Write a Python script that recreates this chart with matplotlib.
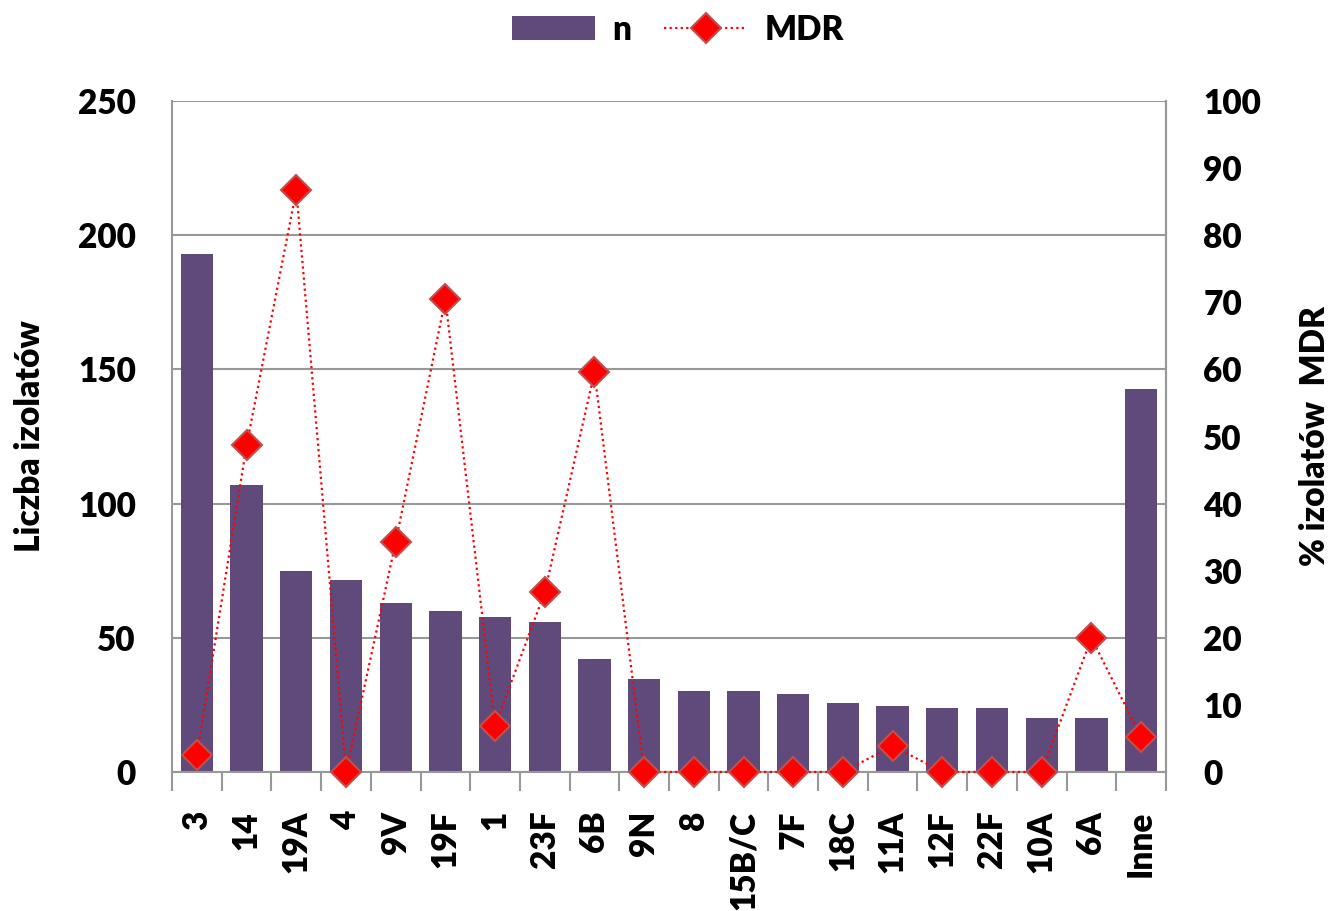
import matplotlib
matplotlib.use("Agg")
import matplotlib.pyplot as plt
import numpy as np

categories = ["3", "14", "19A", "4", "9V", "19F", "1", "23F", "6B", "9N", "8",
              "15B/C", "7F", "18C", "11A", "12F", "22F", "10A", "6A", "Inne"]
n_values = [193, 107, 75, 71.5, 63, 60, 57.7, 56, 42, 34.6, 30, 30, 29, 25.7,
            24.6, 23.8, 23.8, 20, 20, 142.7]
mdr_values = [2.5, 48.7, 86.7, 0, 34.3, 70.5, 6.9, 26.8, 59.6, 0, 0, 0, 0, 0,
              3.9, 0, 0, 0, 20, 5.2]
left_ticks = [0, 50, 100, 150, 200, 250]
right_ticks = [0, 10, 20, 30, 40, 50, 60, 70, 80, 90, 100]

plt.rcParams['font.family'] = ['Lato', 'DejaVu Sans']
plt.rcParams['font.weight'] = 'heavy'
FS = 24
W = 'heavy'

fig = plt.figure(figsize=(13.34, 9.11), dpi=100)
ax = fig.add_axes([0.129, 0.1526, 0.745, 0.7364])
x = np.arange(len(categories))
bar_color = "#604A7B"
bars = ax.bar(x, n_values, width=0.65, color=bar_color, zorder=2, label="n")
ax.set_ylim(0, 250)
ax.set_xlim(-0.5, len(categories) - 0.5)
ax.set_yticks(left_ticks)
grid_col = "#989898"
ax.yaxis.grid(True, color=grid_col, lw=1.5, zorder=0)
ax.set_axisbelow(True)
for s in ax.spines.values():
    s.set_color(grid_col)
    s.set_linewidth(1.5)
ax.spines['top'].set_visible(False)
ax.tick_params(axis='y', length=0, labelsize=FS, pad=26)
ax.set_xticks(np.arange(-0.5, len(categories), 1.0), minor=False)
ax.set_xticklabels([])
ax.tick_params(axis='x', which='major', length=14, color=grid_col, width=1.5, direction='out')
ax.set_xticks(x, minor=True)
ax.set_xticklabels(categories, minor=True, rotation=90, fontsize=FS, fontweight=W)
ax.tick_params(axis='x', which='minor', length=0, pad=28)
ax.set_ylabel("Liczba izolatów", fontsize=FS, fontweight=W)
ax.yaxis.set_label_coords(-0.127, 0.5)
for lab in ax.get_yticklabels():
    lab.set_fontweight(W)

ax2 = ax.twinx()
ax2.set_ylim(0, 100)
ax2.set_yticks(right_ticks)
ax2.tick_params(axis='y', length=0, labelsize=FS, pad=27)
for s in ax2.spines.values():
    s.set_visible(False)
ax2.spines['right'].set_visible(True)
ax2.spines['right'].set_color(grid_col)
ax2.spines['right'].set_linewidth(1.5)
line, = ax2.plot(x, mdr_values, linestyle=(0, (1, 1.5)), color="red", lw=1.6,
                 marker='D', markersize=15, markerfacecolor='red',
                 markeredgecolor="#C0504D", markeredgewidth=1.5, label="MDR",
                 clip_on=False, zorder=3)
ax2.set_ylabel("% izolatów  MDR", fontsize=FS, fontweight=W)
ax2.yaxis.set_label_coords(1.134, 0.5)
for lab in ax2.get_yticklabels():
    lab.set_fontweight(W)

fig.legend(handles=[bars, line], labels=["n", "MDR"], loc='upper center',
           bbox_to_anchor=(0.508, 1.018), ncol=2, frameon=False,
           handlelength=2.5, handleheight=0.7, columnspacing=1.0, handletextpad=0.5,
           prop={'weight': W, 'size': FS})

fig.savefig("out.png", dpi=100)
